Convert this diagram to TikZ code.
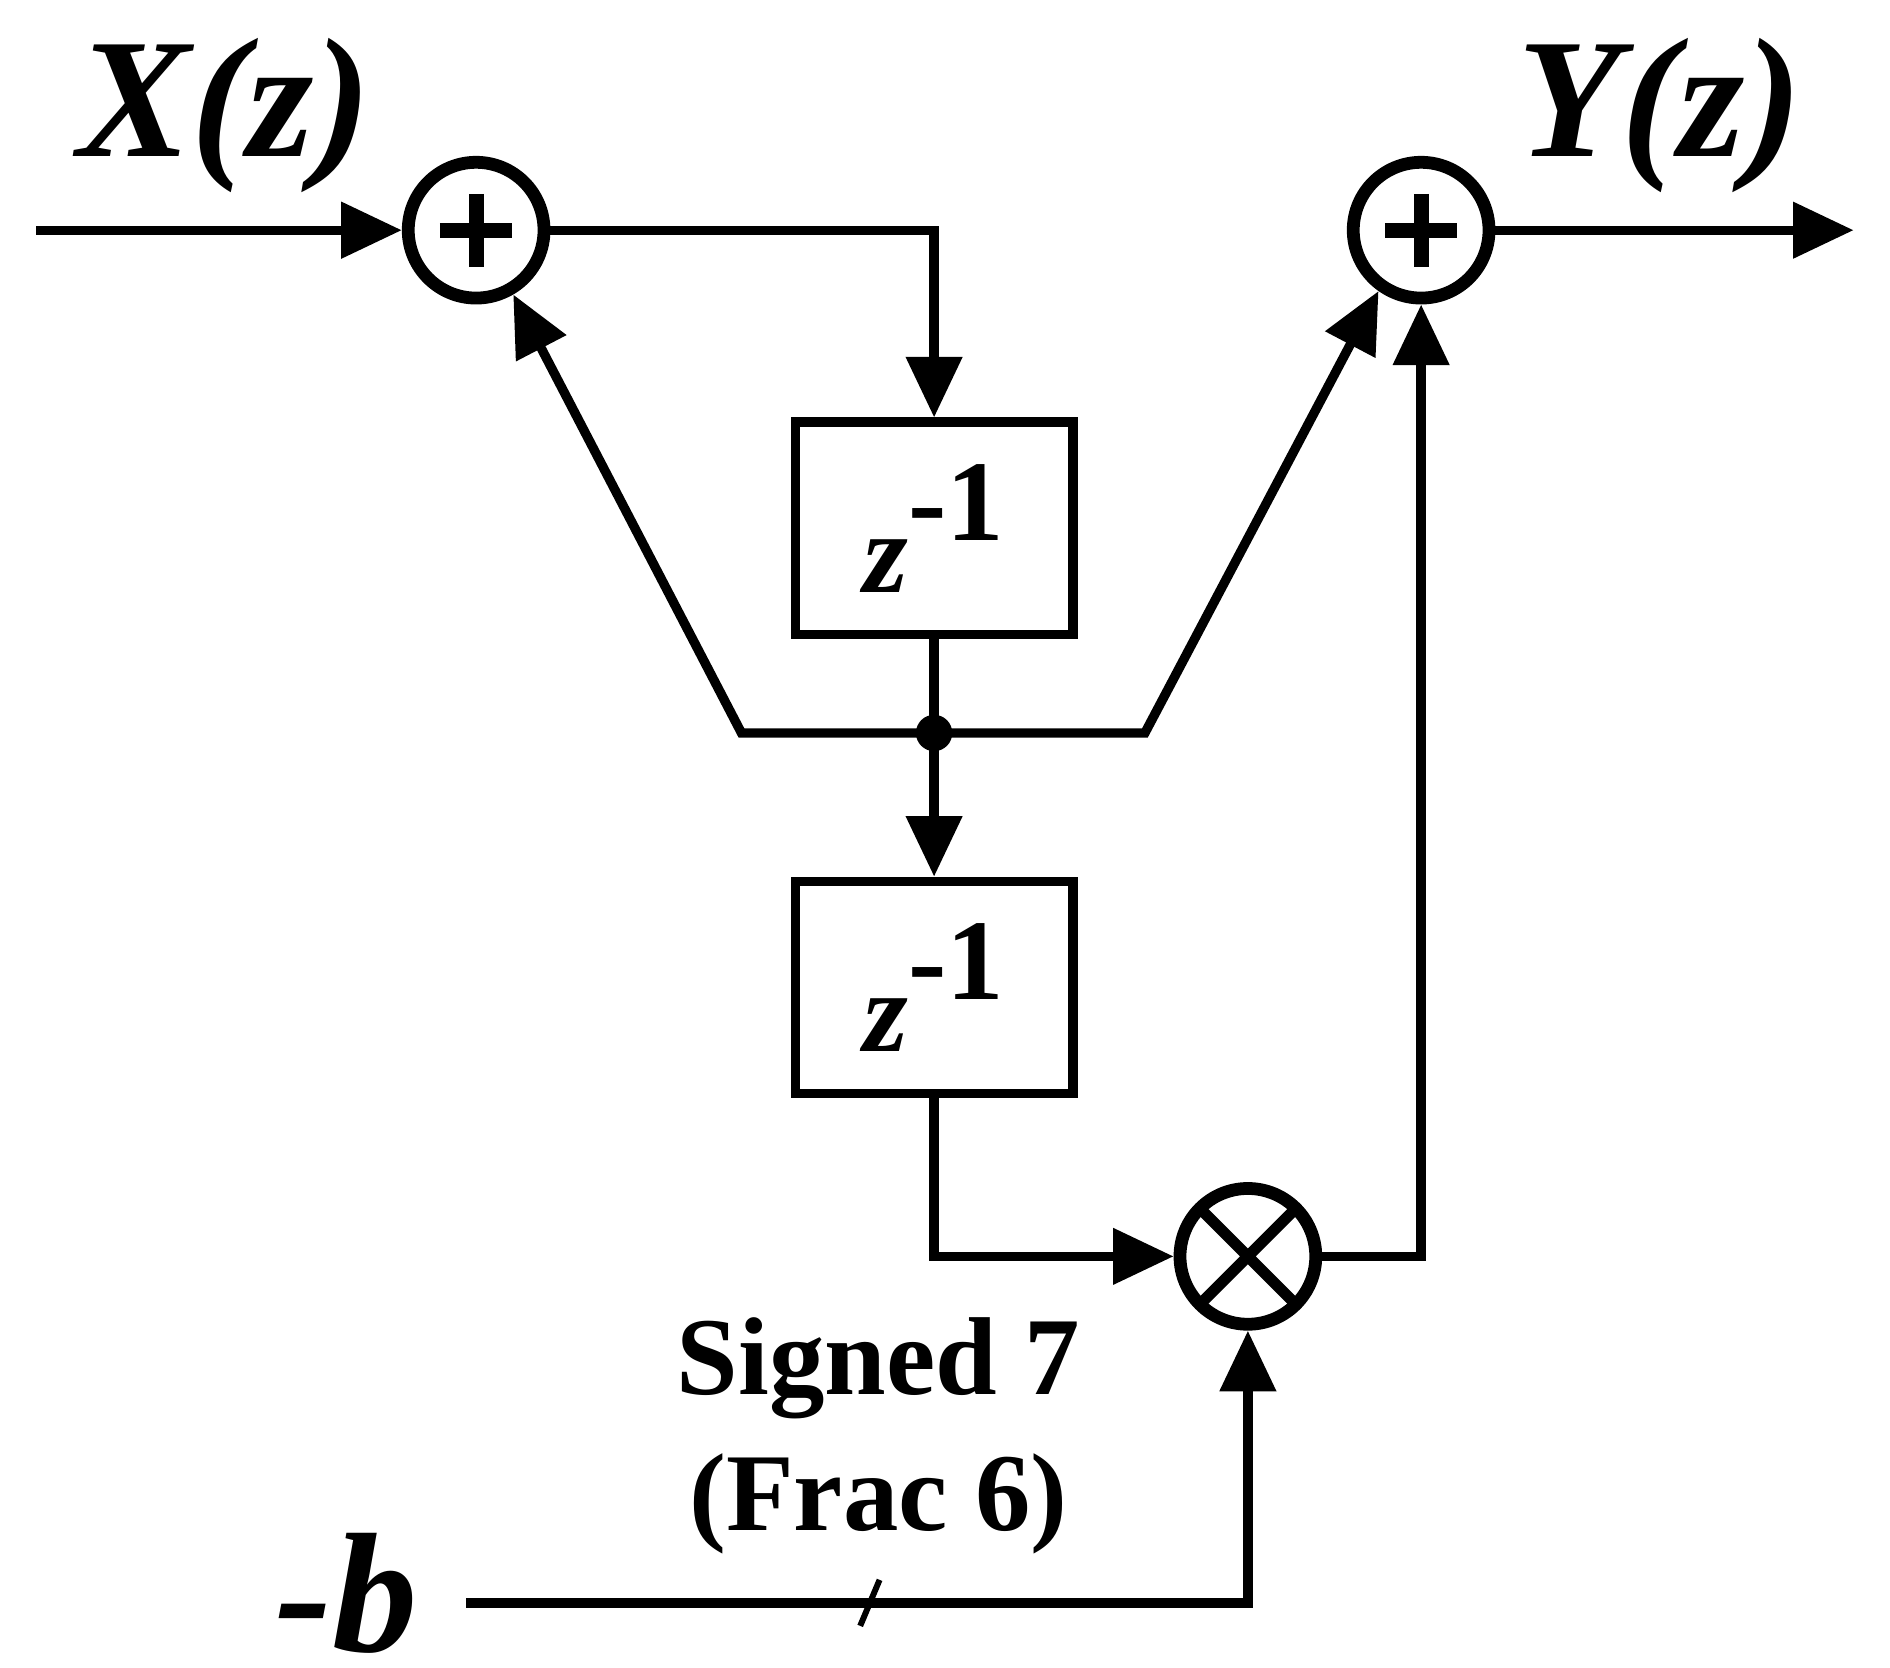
\documentclass[tikz,border=0pt]{standalone}
\usepackage{fontspec}
\setmainfont{Liberation Serif}
\usetikzlibrary{arrows.meta,calc}
\begin{document}
\begin{tikzpicture}[x=0.01cm,y=-0.01cm,line width=2.2pt,
  tip/.style={-{Triangle[length=0.5cm,width=0.45cm]}},
  sumn/.style={circle,draw,line width=3pt,minimum size=1.12cm,inner sep=0pt},
  box/.style={draw,line width=2.2pt,minimum width=2.29cm,minimum height=1.75cm,inner sep=0pt,font=\fontsize{27}{27}\selectfont\bfseries},
  lab/.style={font=\fontsize{40}{40}\selectfont\bfseries\itshape},
  txt/.style={font=\fontsize{26}{32}\selectfont\bfseries,align=center}]
\useasboundingbox (0,0) rectangle (1560,1376);
\node[sumn] (a1) at (393,190) {};
\draw[line width=3.5pt] ($(a1)+(-30,0)$) -- ($(a1)+(30,0)$) ($(a1)+(0,-30)$) -- ($(a1)+(0,30)$);
\node[sumn] (a2) at (1173,190) {};
\draw[line width=3.5pt] ($(a2)+(-30,0)$) -- ($(a2)+(30,0)$) ($(a2)+(0,-30)$) -- ($(a2)+(0,30)$);
\node[sumn] (m) at (1030,1037) {};
\draw[line width=2.6pt] ($(m)+(-38,-38)$) -- ($(m)+(38,38)$) ($(m)+(-38,38)$) -- ($(m)+(38,-38)$);
\node[box] (b1) at (771,436) {\textit{z}\raisebox{0.45em}{-1}};
\node[box] (b2) at (771,815) {\textit{z}\raisebox{0.45em}{-1}};
\coordinate (in) at (30,190);
\coordinate (out) at (1530,190);
\coordinate (j) at (771,605);
\coordinate (jl) at (612,605);
\coordinate (jr) at (945,605);
\coordinate (nb) at (385,1323);
\fill (j) circle (15);
\node[lab] (X) at (185,95) {X(z)};
\node[lab] (Y) at (1370,95) {Y(z)};
\node[lab,anchor=east] (b) at (360,1315) {-b};
\node[txt] (s) at (725,1185) {Signed 7\\(Frac 6)};
\draw[tip] (in) -- (a1);
\draw[tip] (a2) -- (out);
\draw[tip] (a1) -| (b1);
\draw (b1) -- (j);
\draw[tip] (j) -- (b2);
\draw[tip] (j) -- (jl) -- (a1.-60);
\draw[tip] (j) -- (jr) -- (a2.-125);
\draw[tip] (b2) |- (m);
\draw[tip] (m) -| (a2);
\draw[tip] (nb) -| (m);
\draw[line width=1.4pt] (710,1342) -- (726,1304);
\end{tikzpicture}
\end{document}
